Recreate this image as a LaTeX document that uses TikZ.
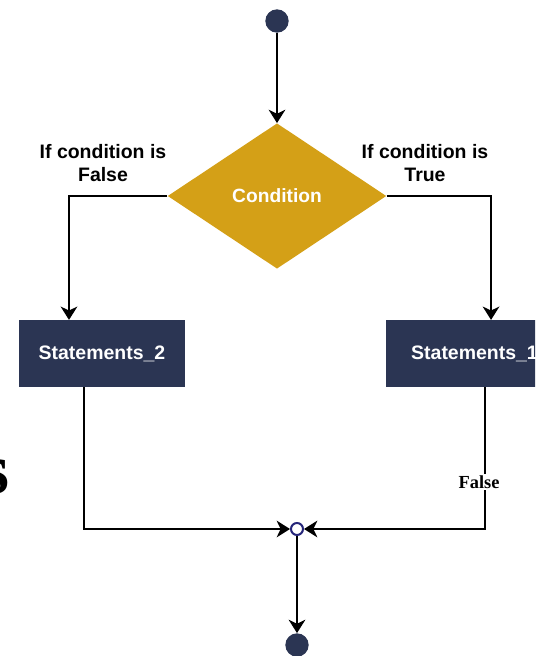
\documentclass[tikz,border=0pt]{standalone}
\usepackage{fontspec}
\usetikzlibrary{arrows.meta,shapes.geometric}
\newfontfamily\flowsans{Liberation Sans}
\newfontfamily\flowserif{Liberation Serif}
\definecolor{navy}{HTML}{2B3553}
\definecolor{gold}{HTML}{D4A017}
\definecolor{ringblue}{HTML}{26267A}
\tikzset{
  flow/.style={line width=1.5pt, draw=black},
  arr/.style={flow, -{Stealth[length=10pt,width=12.5pt,inset=3pt]}},
  terminal/.style={circle, fill=navy, inner sep=0pt, minimum size=17.5pt},
  junction/.style={circle, draw=ringblue, fill=white, line width=1.5pt, inner sep=0pt, minimum size=9pt},
  decision/.style={diamond, fill=gold, inner sep=0pt, minimum width=164pt, minimum height=109pt,
    text=white, font=\flowsans\bfseries\fontsize{14.4}{17}\selectfont},
  stepbox/.style={rectangle, fill=navy, inner sep=0pt, minimum height=50pt,
    text=white, font=\flowsans\bfseries\fontsize{14.6}{17}\selectfont},
  branchlbl/.style={align=center, font=\flowsans\bfseries\fontsize{14.6}{17.25}\selectfont},
  edgelbl/.style={fill=white, inner sep=1pt, font=\flowserif\bfseries\fontsize{13.8}{15}\selectfont}
}
\begin{document}
\begin{tikzpicture}[x=0.75pt,y=-0.75pt]
  \useasboundingbox (0,0) rectangle (535,656);
  \clip (0,0) rectangle (535,656);

  % stray heading letter at the left edge
  \node[anchor=base east, inner sep=0pt, font=\flowserif\bfseries\fontsize{54}{60}\selectfont] (s) at (10,493) {s};

  % nodes
  \node[terminal] (start) at (277,21) {};
  \node[decision] (cond) at (277,196) {Condition};
  \node[stepbox, minimum width=124pt] (s2) at (102,353.5) {Statements\_2};
  \node[stepbox, minimum width=133pt] (s1) at (474.5,353.5) {Statements\_1};
  \node[junction] (junc) at (297,529) {};
  \node[terminal] (stop) at (297,645) {};

  % branch captions
  \node[branchlbl] (lf) at (103,163) {If condition is\\False};
  \node[branchlbl] (lt) at (425,163) {If condition is\\True};

  % connectors
  \draw[arr] (start) -- (cond.north);
  \draw[arr] (cond.west) -| ([xshift=-24.75pt]s2.north);
  \draw[arr] (cond.east) -| ([xshift=12.4pt]s1.north);
  \draw[arr] ([xshift=-13.8pt]s2.south) |- (junc.west);
  \draw[arr] ([xshift=7.5pt]s1.south) |- (junc.east);
  \draw[arr] (junc.south) -- (stop.north);

  \node[edgelbl] (fl) at (479,482) {False};
\end{tikzpicture}
\end{document}
